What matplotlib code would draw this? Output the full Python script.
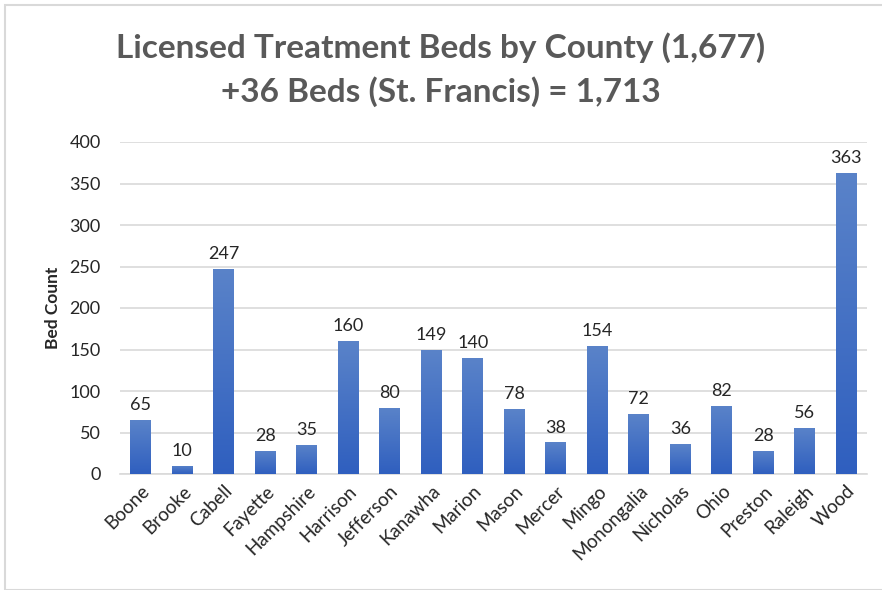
import numpy as np
import matplotlib.pyplot as plt
import matplotlib as mpl
from matplotlib.patches import Rectangle

counties = ['Boone', 'Brooke', 'Cabell', 'Fayette', 'Hampshire', 'Harrison',
            'Jefferson', 'Kanawha', 'Marion', 'Mason', 'Mercer', 'Mingo',
            'Monongalia', 'Nicholas', 'Ohio', 'Preston', 'Raleigh', 'Wood']
beds = [65, 10, 247, 28, 35, 160, 80, 149, 140, 78, 38, 154, 72, 36, 82, 28, 56, 363]
yticks = [0, 50, 100, 150, 200, 250, 300, 350, 400]

mpl.rc('font', family=['Lato', 'DejaVu Sans'])

fig = plt.figure(figsize=(8.82, 5.90), dpi=100)
ax = fig.add_axes([120/882, 1 - 474/590, 747/882, 332/590])

x = np.arange(len(counties))
bars = ax.bar(x, beds, width=0.5, color='#4472C4', zorder=2)

# vertical gradient in each bar, lighter at the top
grad = np.linspace(0, 1, 256).reshape(-1, 1)
cmap = mpl.colors.LinearSegmentedColormap.from_list('g', ['#2F5FBF', '#5A83C9'])
for b in bars:
    x0, y0 = b.get_x(), b.get_y()
    w, h = b.get_width(), b.get_height()
    im = ax.imshow(grad, extent=(x0, x0 + w, y0, y0 + h), origin='lower',
                   cmap=cmap, aspect='auto', zorder=3)
    im.set_clip_path(b)
    ax.annotate(str(int(h)), (x0 + w / 2, h), xytext=(0, 5), textcoords='offset points',
                ha='center', va='bottom', fontsize=13, color='#262626')

ax.set_xlim(-0.5, len(counties) - 0.5)
ax.set_ylim(0, 400)
ax.set_yticks(yticks)
ax.set_xticks(x)
ax.set_xticklabels(counties, rotation=45, ha='right', rotation_mode='anchor',
                   fontsize=13.5, color='#262626')
ax.tick_params(axis='y', labelsize=13, labelcolor='#262626', length=0, pad=14)
ax.tick_params(axis='x', length=0, pad=6)
ax.grid(axis='y', color='#D9D9D9', linewidth=1.2, zorder=0)
for s in ['top', 'right', 'left']:
    ax.spines[s].set_visible(False)
ax.spines['bottom'].set_color('#D9D9D9')
ax.spines['bottom'].set_linewidth(1.2)
ax.set_ylabel('Bed Count', fontsize=12.5, fontweight='bold', color='#262626', labelpad=6)

fig.text(0.5, 1 - 48/590, 'Licensed Treatment Beds by County (1,677)', ha='center', va='center',
         fontsize=24, fontweight='bold', color='#595959')
fig.text(0.5, 1 - 92/590, '+36 Beds (St. Francis) = 1,713', ha='center', va='center',
         fontsize=24, fontweight='bold', color='#595959')

fig.patches.append(Rectangle((5/882, 0), 1, 1 - 5/590, transform=fig.transFigure,
                             fill=False, edgecolor='#D9D9D9', linewidth=1.5))

fig.savefig('out.png', dpi=100)
